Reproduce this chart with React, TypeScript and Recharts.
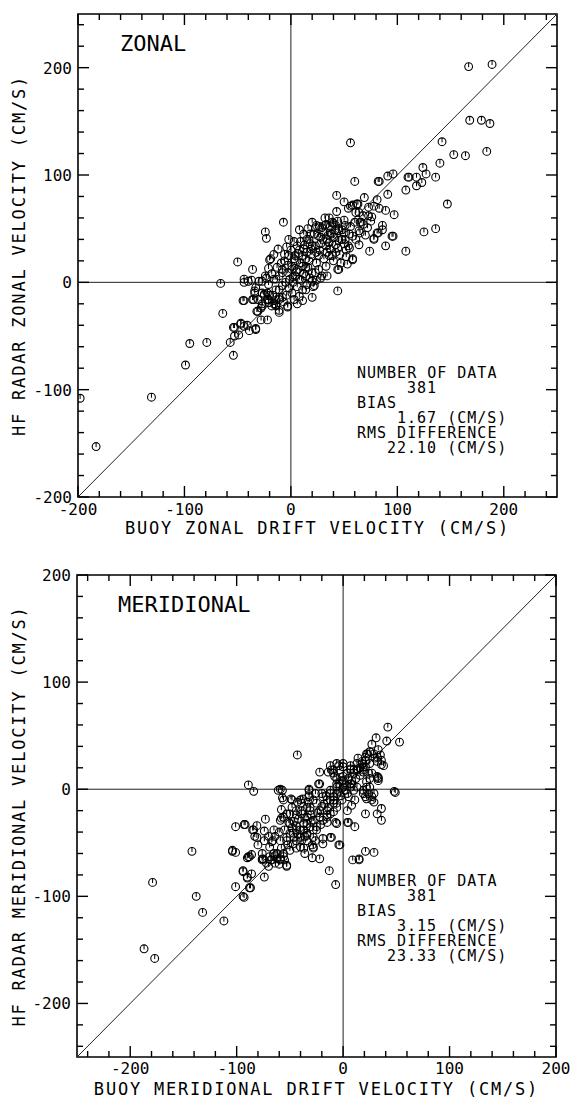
import React from 'react';
import { ScatterChart, Scatter, XAxis, YAxis, ReferenceLine, ReferenceArea } from 'recharts';

const FONT = '"DejaVu Sans Mono", "Liberation Mono", monospace';

// buoy (x) vs radar (y), cm/s
const zonalPoints: [number, number][] = [
  [167, 201], [189, 203], [168, 151], [179, 151], [187, 148], [56, 130], [142, 131], [153, 119], [164, 118], [184, 122],
  [140, 111], [124, 107], [127, 101], [136, 98], [110, 98], [118, 98], [123, 93], [118, 90], [108, 86], [91, 99],
  [96, 101], [83, 94], [60, 94], [82, 94], [91, 82], [147, 73], [43, 81], [50, 75], [69, 79], [81, 77],
  [58, 72], [63, 73], [78, 71], [83, 69], [89, 67], [97, 63], [43, 66], [54, 69], [64, 65], [73, 62],
  [75, 57], [66, 56], [86, 53], [81, 46], [86, 49], [125, 47], [136, 50], [95, 43], [78, 40], [89, 34],
  [74, 29], [108, 29], [40, 55], [45, 50], [50, 58], [38, 45], [48, 40], [55, 45], [42, 35], [52, 30],
  [36, 60], [56, 52], [-7, 56], [-24, 47], [-23, 41], [8, 49], [-12, 31], [-4, 33], [-50, 19], [-20, 21],
  [-36, 12], [-66, -1], [-44, 0], [-37, 2], [-30, 1], [-23, 4], [-33, -5], [-34, -10], [-44, -17], [-36, -16],
  [-27, -10], [-22, -10], [-64, -29], [-31, -27], [-28, -35], [-22, -35], [-47, -38], [-53, -42], [-33, -43], [6, -20],
  [-3, -22], [44, -8], [21, -4], [78, 41], [82, 46], [56, 71], [61, 65], [65, 56], [64, 48], [51, 53],
  [58, 43], [54, 34], [58, 21], [53, 17], [44, 12], [33, 15], [39, 25], [26, 25], [36, 37], [26, 43],
  [33, 54], [39, 56], [45, 48], [48, 40], [23, 51], [15, 40], [20, 34], [12, 31], [6, 34], [14, 22],
  [23, 9], [29, 6], [20, 1], [11, -7], [1, -10], [-11, -7], [-14, 3], [-8, 9], [1, 15], [-2, 25],
  [4, 25], [-5, 0], [4, 6], [11, 15], [-11, -16], [-18, -22], [-11, -28], [-28, -24], [-21, -16], [-41, -40],
  [111, 98], [62, 73], [73, 70], [76, 61], [68, 54], [72, 51], [96, 43], [-19, 22], [-21, 13], [24, 53],
  [29, 51], [22, 45], [28, 42], [17, 40], [23, 34], [19, 31], [33, 34], [37, 31], [42, 28], [36, 25],
  [31, 22], [40, 20], [47, 18], [26, 12], [20, 9], [28, 4], [8, 3], [14, 6], [1, 12], [4, 20],
  [11, 25], [15, 28], [-8, 12], [-3, 9], [-11, 6], [-16, 3], [-24, 6], [-27, 1], [-21, -2], [-14, -7],
  [-8, -3], [-2, -5], [8, -13], [11, -17], [14, -7], [20, -14], [-25, -11], [-22, -16], [-16, -17], [-11, -14],
  [-27, -22], [-14, -22], [64, 35], [61, 40], [65, 46], [51, 40], [45, 39], [48, 49], [42, 49], [37, 46],
  [27, 52], [32, 53], [37, 52], [42, 53], [22, -3], [34, 6], [45, 12], [58, 22], [55, 32], [-45, -17],
  [-54, -42], [-47, -39], [-44, -41], [-49, -49], [-53, -50], [-57, -56], [-54, -68], [-39, -45], [-33, -44], [-95, -57],
  [-79, -56], [-99, -77], [-131, -107], [-198, -108], [-183, -153], [-34, -8], [-35, -16], [-31, -16], [-25, -12], [-20, -12],
  [-17, -12], [-27, -20], [-21, -19], [-16, -20], [-32, -27], [-11, -26], [-3, -23], [-8, -14], [-14, -21], [-44, 3],
  [-40, 1], [2, 5], [5, 10], [9, 18], [12, 8], [16, 14], [3, 22], [7, 27], [17, 20], [-3, 16],
  [-6, 20], [10, 2], [15, -2], [6, -4], [-1, 3], [19, 26], [24, 18], [27, 30], [30, 40], [35, 44],
  [13, 35], [18, 45], [3, 38], [-2, 40], [9, 38], [30, 47], [34, 40], [40, 42], [44, 32], [50, 36],
  [46, 26], [52, 24], [34, 28], [28, 36], [24, 28], [18, 36], [8, 30], [0, 30], [-6, 26], [2, 0],
  [6, 12], [14, 14], [18, 4], [24, 2], [-9, 18], [-13, 14], [-18, 8], [-4, -12], [3, -16], [-7, -18],
  [16, 50], [20, 56], [44, 57], [50, 46], [60, 56], [70, 44], [68, 62], [32, 60], [12, 45], [-16, 26],
];

// buoy (x) vs radar (y), cm/s
const meridionalPoints: [number, number][] = [
  [-179, -87], [-138, -100], [-132, -115], [-112, -123], [-187, -149], [-177, -158], [-142, -58], [-101, -91], [-93, -101], [-88, -92],
  [-94, -77], [-90, -83], [-86, -79], [-89, -63], [-86, -61], [-74, -82], [-76, -60], [-76, -65], [-70, -72], [-104, -58],
  [-101, -59], [-43, 32], [-89, 4], [-84, -2], [-61, -1], [-57, -1], [-57, -8], [-49, -9], [-43, -12], [-38, -9],
  [-32, -1], [-32, -7], [-22, 16], [-23, 5], [-12, 22], [-11, 18], [-4, 22], [0, 24], [7, 19], [13, 18],
  [19, 21], [21, 30], [23, 33], [18, 24], [-58, -19], [-56, -26], [-59, -29], [-73, -28], [-65, -38], [-81, -34],
  [-84, -38], [-83, -44], [-81, -45], [-74, -39], [-101, -35], [-92, -33], [-80, -52], [-74, -48], [-66, -48], [-59, -48],
  [-69, -54], [-88, -63], [-76, -66], [-69, -63], [-64, -62], [-59, -65], [-53, -71], [-72, -69], [-94, -76], [-87, -92],
  [-19, -46], [-12, -45], [-28, -54], [-19, -51], [-29, -64], [-22, -65], [-13, -76], [-4, -52], [-7, -89], [5, -31],
  [11, -35], [21, -23], [21, -58], [9, -66], [15, -66], [-6, -32], [-19, -29], [-15, -24], [-9, -21], [-14, -17],
  [-22, -20], [-31, -20], [-25, -13], [-15, -10], [-9, -10], [-6, -4], [0, 2], [0, 12], [8, 8], [-6, 5],
  [-12, -1], [-20, -4], [-28, -10], [-34, -17], [-39, -23], [-34, -26], [-28, -29], [-37, -32], [-44, -34], [-50, -32],
  [-50, -23], [-44, -20], [-39, -13], [-33, -12], [-47, -41], [-40, -45], [-34, -41], [-47, -51], [-40, -54], [-53, -45],
  [-55, -38], [-37, -38], [-31, -35], [-25, -38], [-28, -45], [-34, -48], [-44, -48], [-50, -57], [-56, -60], [-93, -33],
  [-85, -38], [-67, -49], [-104, -57], [-90, -64], [-75, -65], [-65, -60], [-62, -65], [-67, -66], [-64, -69], [-59, -66],
  [-53, -72], [-56, -63], [-90, -82], [-94, -100], [-28, -55], [-21, -33], [-15, -31], [-7, -31], [4, -31], [32, -23],
  [36, -18], [36, -29], [29, -59], [15, -65], [49, -3], [19, -4], [24, -4], [29, -4], [22, -9], [27, -10],
  [22, 2], [25, 2], [22, 7], [32, 12], [33, 10], [29, -12], [7, 2], [8, 5], [5, 10], [4, 15],
  [10, 18], [16, 13], [7, 22], [13, 24], [21, 21], [25, 24], [32, 26], [36, 23], [19, 16], [24, 15],
  [0, 21], [-14, 16], [-9, 15], [-6, 10], [-1, 8], [-22, 5], [-32, 0], [-32, -5], [-40, -10], [-48, -10],
  [-48, -17], [-56, -10], [-59, 0], [-58, -27], [-53, -23], [-51, -31], [-44, -24], [-39, -20], [-31, -17], [-19, -7],
  [-12, -4], [-6, 2], [-9, -13], [-15, -20], [-22, -26], [-34, -32], [-44, -38], [-50, -41], [-53, -48], [-39, -48],
  [-34, -43], [-28, -38], [-25, -35], [-15, -26], [-12, -23], [-6, -17], [-44, -55], [-37, -55], [-29, -52], [-26, -48],
  [42, 58], [31, 48], [41, 45], [53, 44], [27, 42], [33, 37], [22, 33], [25, 35], [29, 33], [32, 30],
  [35, 32], [36, 27], [38, 22], [30, 29], [21, 27], [18, 26], [14, 29], [19, 18], [27, 15], [33, 11],
  [33, 8], [25, 10], [13, 19], [10, 15], [7, 18], [-6, 24], [48, -2], [19, -1], [21, -7], [27, -7],
  [11, -10], [8, -15], [4, -20], [-11, -45], [-3, -52], [0, 8], [7, 5], [13, 2], [10, -1], [2, -1],
  [-4, 5], [-8, 12], [-9, 18], [-3, 18], [5, -7], [-1, -10], [-6, -13], [-9, -7], [-42, -28], [-46, -30],
  [-36, -27], [-30, -24], [-24, -22], [-18, -14], [-12, -10], [-4, -2], [2, 4], [-40, -38], [-36, -44], [-46, -45],
  [-52, -52], [-58, -55], [-62, -60], [-68, -66], [-60, -70], [-55, -66], [-48, -36], [-42, -42], [-30, -30], [-20, -16],
  [-16, -6], [-26, -4], [-2, -6], [4, -4], [12, 10], [16, 20], [-60, -40], [-64, -44], [-70, -44], [-36, -60],
];

const zonalTicks = Array.from({ length: 23 }, (_, i) => -200 + i * 20);
const meridionalTicks = Array.from({ length: 23 }, (_, i) => -240 + i * 20);

// leading spaces give the indent of each line, in characters
const zonalNotes = ['NUMBER OF DATA', '     381', 'BIAS', '    1.67 (CM/S)', 'RMS DIFFERENCE', '   22.10 (CM/S)'];
const meridionalNotes = ['NUMBER OF DATA', '     381', 'BIAS', '    3.15 (CM/S)', 'RMS DIFFERENCE', '   23.33 (CM/S)'];

const Marker = (p: any) => {
  const { cx, cy } = p;
  if (cx == null || cy == null) return null;
  return (
    <g>
      <circle cx={cx} cy={cy} r={3.9} fill="none" stroke="#000" strokeWidth={1.1} />
      <line x1={cx} y1={cy - 3.9} x2={cx} y2={cy + 0.6} stroke="#000" strokeWidth={1} />
    </g>
  );
};

function XTick(props: any) {
  const { x, y, payload, plotH, labelDy } = props;
  const v = payload.value;
  const major = v % 100 === 0;
  const len = major ? 11 : 6;
  return (
    <g>
      <line x1={x} x2={x} y1={y} y2={y - len} stroke="#000" strokeWidth={1.4} />
      <line x1={x} x2={x} y1={y - plotH} y2={y - plotH + len} stroke="#000" strokeWidth={1.4} />
      {major && (
        <text x={x} y={y + labelDy} textAnchor="middle" fontFamily={FONT} fontSize={16} fill="#000">
          {v}
        </text>
      )}
    </g>
  );
}

function YTick(props: any) {
  const { x, y, payload, plotW } = props;
  const v = payload.value;
  const major = v % 100 === 0;
  const len = major ? 11 : 6;
  return (
    <g>
      <line x1={x} x2={x + len} y1={y} y2={y} stroke="#000" strokeWidth={1.4} />
      <line x1={x + plotW} x2={x + plotW - len} y1={y} y2={y} stroke="#000" strokeWidth={1.4} />
      {major && (
        <text x={x - 6} y={y + 6} textAnchor="end" fontFamily={FONT} fontSize={16} fill="#000">
          {v}
        </text>
      )}
    </g>
  );
}

function Panel({ points, domain, ticks, xTitle, yTitle, height, margin, yWidth, xHeight, labelDy, titleDy }: any) {
  const data = points.map(([buoy, radar]: [number, number]) => ({ buoy, radar }));
  const plotW = 570 - yWidth - margin.right;
  const plotH = height - margin.top - xHeight;
  return (
    <ScatterChart width={570} height={height} margin={{ top: margin.top, right: margin.right, bottom: 0, left: 0 }}>
      <XAxis
        type="number"
        dataKey="buoy"
        domain={domain}
        ticks={ticks}
        interval={0}
        allowDataOverflow
        height={xHeight}
        axisLine={false}
        tickLine={false}
        tickSize={0}
        tickMargin={0}
        tick={(p: any) => <XTick {...p} plotH={plotH} labelDy={labelDy} />}
        label={{
          content: ({ viewBox }: any) => (
            <text
              x={viewBox.x + viewBox.width / 2}
              y={viewBox.y + titleDy}
              textAnchor="middle"
              fontFamily={FONT}
              fontSize={17}
              letterSpacing={1.8}
              fill="#000"
            >
              {xTitle}
            </text>
          ),
        }}
      />
      <YAxis
        type="number"
        dataKey="radar"
        domain={domain}
        ticks={ticks}
        interval={0}
        allowDataOverflow
        width={yWidth}
        axisLine={false}
        tickLine={false}
        tickSize={0}
        tickMargin={0}
        tick={(p: any) => <YTick {...p} plotW={plotW} />}
        label={{
          content: ({ viewBox }: any) => {
            const cy = viewBox.y + viewBox.height / 2;
            return (
              <text
                x={25}
                y={cy}
                transform={`rotate(-90, 25, ${cy})`}
                textAnchor="middle"
                fontFamily={FONT}
                fontSize={17}
                letterSpacing={1.8}
                fill="#000"
              >
                {yTitle}
              </text>
            );
          },
        }}
      />
      <ReferenceArea x1={domain[0]} x2={domain[1]} y1={domain[0]} y2={domain[1]} fill="none" stroke="#000" strokeWidth={1.6} />
      <ReferenceLine x={0} stroke="#222" strokeWidth={1} />
      <ReferenceLine y={0} stroke="#222" strokeWidth={1} />
      <ReferenceLine
        segment={[{ x: domain[0], y: domain[0] }, { x: domain[1], y: domain[1] }]}
        stroke="#222"
        strokeWidth={1}
      />
      <Scatter data={data} shape={Marker} isAnimationActive={false} />
    </ScatterChart>
  );
}

function Notes({ lines, x, y }: { lines: string[]; x: number; y: number }) {
  return (
    <>
      {lines.map((t, i) => {
        const indent = t.length - t.trimStart().length;
        return (
          <text
            key={i}
            x={x + indent * 10}
            y={y + i * 15}
            fontFamily={FONT}
            fontSize={15}
            letterSpacing={1}
            fill="#000"
          >
            {t.trim()}
          </text>
        );
      })}
    </>
  );
}

export default function App() {
  return (
    <div style={{ position: 'absolute', left: 0, top: 0, width: 570, height: 1099, background: '#fff' }}>
      <div style={{ position: 'absolute', left: 0, top: 0 }}>
        <Panel
          points={zonalPoints}
          domain={[-200, 250]}
          ticks={zonalTicks}
          xTitle="BUOY ZONAL DRIFT VELOCITY (CM/S)"
          yTitle="HF RADAR ZONAL VELOCITY (CM/S)"
          height={550}
          margin={{ top: 14, right: 13 }}
          yWidth={78}
          xHeight={53}
          labelDy={18}
          titleDy={37}
        />
      </div>
      <div style={{ position: 'absolute', left: 0, top: 550 }}>
        <Panel
          points={meridionalPoints}
          domain={[-250, 200]}
          ticks={meridionalTicks}
          xTitle="BUOY MERIDIONAL DRIFT VELOCITY (CM/S)"
          yTitle="HF RADAR MERIDIONAL VELOCITY (CM/S)"
          height={549}
          margin={{ top: 25, right: 14 }}
          yWidth={77}
          xHeight={42}
          labelDy={17}
          titleDy={38}
        />
      </div>
      <svg width={570} height={1099} style={{ position: 'absolute', left: 0, top: 0, pointerEvents: 'none' }}>
        <text x={120} y={51} fontFamily={FONT} fontSize={22} fill="#000">ZONAL</text>
        <text x={118} y={612} fontFamily={FONT} fontSize={22} fill="#000">MERIDIONAL</text>
        <Notes lines={zonalNotes} x={357} y={378} />
        <Notes lines={meridionalNotes} x={357} y={886} />
      </svg>
    </div>
  );
}
